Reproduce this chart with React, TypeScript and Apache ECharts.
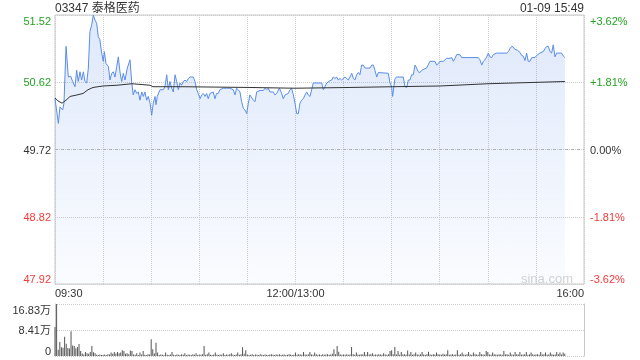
import React, { useEffect, useRef } from 'react';
import * as echarts from 'echarts';

const stockTitle = '03347 泰格医药';
const stampText = '01-09 15:49';
const watermark = 'sina.com';
const prevClose = 49.72;
const priceTicks = [47.92, 48.82, 49.72, 50.62, 51.52];
const pctTicks = ['-3.62%', '-1.81%', '0.00%', '+1.81%', '+3.62%'];
const timeTicks: Record<number, string> = { 0: '09:30', 150: '12:00/13:00', 330: '16:00' };
const volTicks = ['0', '8.41万', '16.83万'];
const volMax = 16.83;

// minutes after 09:30 (lunch break removed)
const minutes = [
  0, 2.1, 3.1, 4.8, 5.6, 6.9, 8.3, 9.8, 11, 12.5, 13.5, 14.5, 15.6, 16.6, 17.7, 18.7, 19.8, 20.8, 21.8, 22.9,
  23.9, 25, 26, 27, 28, 29.1, 30.1, 30.8, 31.8, 33.3, 34.3, 35.4, 36.4, 37.4, 38.5, 39.5, 40.5, 41.6, 42.6, 43.7,
  45.1, 46.8, 47.8, 48.8, 49.9, 51, 52, 53, 54.1, 55.1, 56.1, 57.2, 58.2, 59.3, 60.3, 61.3, 62.4, 63, 63.8, 65.5,
  67.6, 68.6, 69.7, 70.7, 71.7, 72.8, 73.8, 74.9, 75.9, 76.9, 78, 79, 80, 81.1, 82.1, 83.2, 84.2, 86.3, 87.3, 88.4,
  89.4, 90.5, 91.5, 92.5, 93.6, 94.6, 95.6, 96.7, 98.7, 99.8, 100.8, 101.8, 102.9, 105, 107, 109.1, 111.2, 112.3, 113.3, 114.3,
  115.4, 116.4, 117.5, 118.5, 119.6, 120.6, 121.6, 123.7, 124.8, 125.8, 127.9, 130, 131, 132, 133.1, 134.1, 136.2, 137.2, 138.3, 140,
  141.4, 142.4, 143.5, 145.5, 146.6, 147.6, 148.7, 149.7, 150.8, 151.8, 152.8, 153.9, 154.9, 156, 157, 158, 159.1, 160.1, 161.1, 166.4,
  167.4, 168.4, 169.5, 171.5, 172.6, 173.6, 174.7, 175.7, 176.7, 177.8, 178.8, 179.8, 180.9, 181.9, 183, 184, 185.1, 186.1, 187.1, 188.2,
  189.2, 190.2, 191.3, 192.3, 193.4, 196.5, 197.6, 198.6, 199.6, 200.7, 201.7, 207.9, 209, 210, 210.6, 211.5, 212.1, 213.2, 217.3, 218.3,
  219.4, 220.4, 221.4, 222.5, 223.5, 224.6, 225.6, 226.6, 227.7, 228.7, 229.7, 231.8, 233.9, 237, 238.1, 239.1, 240.1, 242.2, 244.3, 246.4,
  247.5, 248.5, 249.5, 250.6, 252.6, 253.7, 264, 265.1, 266.2, 267.2, 268.2, 269.3, 270.3, 271.3, 272.4, 273.4, 275.5, 281.8, 282.8, 283.8,
  284.9, 285.9, 286.9, 288.4, 290.1, 291.1, 292.1, 293.2, 294.2, 295.2, 296.3, 297.4, 299.4, 300.5, 302.5, 304.6, 305.7, 306.7, 307.7, 308.8,
  309.8, 310.8, 311.9, 312.9, 316, 317.1, 318.1,
];
const prices = [
  50.40, 50.07, 50.29, 50.25, 50.34, 51.10, 50.69, 50.70, 50.63, 50.56, 50.78, 50.63, 50.76, 50.65, 50.76, 50.63, 50.61, 50.81, 51.30, 51.39,
  51.52, 51.45, 51.41, 51.23, 51.19, 51.01, 50.90, 51.03, 50.87, 50.83, 50.65, 50.74, 50.76, 50.69, 50.83, 50.96, 50.76, 50.63, 50.74, 50.65,
  50.81, 50.92, 50.63, 50.45, 50.52, 50.47, 50.49, 50.38, 50.49, 50.43, 50.49, 50.38, 50.43, 50.34, 50.18, 50.34, 50.43, 50.32, 50.43, 50.52,
  50.52, 50.56, 50.72, 50.52, 50.63, 50.54, 50.49, 50.72, 50.63, 50.52, 50.61, 50.58, 50.63, 50.65, 50.63, 50.67, 50.69, 50.69, 50.63, 50.52,
  50.47, 50.40, 50.45, 50.47, 50.43, 50.47, 50.40, 50.47, 50.49, 50.40, 50.47, 50.47, 50.52, 50.54, 50.54, 50.54, 50.52, 50.45, 50.54, 50.52,
  50.49, 50.36, 50.27, 50.25, 50.20, 50.34, 50.45, 50.38, 50.36, 50.49, 50.51, 50.51, 50.54, 50.52, 50.54, 50.49, 50.49, 50.45, 50.47, 50.54,
  50.47, 50.40, 50.45, 50.47, 50.52, 50.54, 50.45, 50.34, 50.20, 50.20, 50.34, 50.38, 50.40, 50.45, 50.49, 50.45, 50.43, 50.52, 50.61, 50.61,
  50.52, 50.56, 50.61, 50.64, 50.65, 50.69, 50.67, 50.69, 50.65, 50.67, 50.65, 50.67, 50.69, 50.67, 50.65, 50.69, 50.74, 50.67, 50.65, 50.72,
  50.75, 50.72, 50.85, 50.85, 50.81, 50.81, 50.85, 50.85, 50.78, 50.69, 50.75, 50.74, 50.61, 50.56, 50.43, 50.58, 50.67, 50.69, 50.69, 50.56,
  50.55, 50.65, 50.65, 50.72, 50.72, 50.85, 50.81, 50.76, 50.75, 50.78, 50.79, 50.81, 50.90, 50.90, 50.85, 50.87, 50.90, 50.90, 50.94, 50.94,
  50.95, 50.90, 50.94, 50.99, 50.99, 50.95, 50.95, 50.92, 50.85, 50.90, 50.92, 50.96, 51.01, 50.96, 50.95, 50.99, 51.01, 51.01, 51.03, 51.07,
  51.10, 51.09, 51.06, 51.05, 51.02, 50.98, 50.97, 50.91, 51.01, 50.90, 50.90, 50.95, 50.95, 50.98, 51.01, 51.03, 51.07, 51.10, 51.10, 51.03,
  51.01, 51.12, 50.96, 51.01, 51.01, 50.97, 50.95,
];
const avgMinutes = [0, 1.9, 4.4, 6.9, 9.4, 13.7, 17.5, 20.6, 23.7, 29.9, 38.7, 48, 59.3, 61.1, 79.8, 121.6, 149.7, 184, 210.8, 240.2, 270.1, 318.1];
const avgPrices = [50.41, 50.37, 50.34, 50.38, 50.43, 50.45, 50.47, 50.52, 50.55, 50.57, 50.58, 50.60, 50.58, 50.56, 50.56, 50.55, 50.54, 50.55, 50.56, 50.57, 50.60, 50.63];
// volume per minute, in 万 shares
const volumes = [
  9.4, 16.83, 2.0, 4.5, 2.8, 2.7, 6.2, 4.0, 2.6, 2.4, 8.0, 3.4, 3.2, 2.5, 2.9, 3.9,
  1.6, 0.8, 0.5, 1.3, 0.9, 0.7, 1.3, 3.2, 1.2, 0.9, 0.4, 0.3, 0.5, 0.3,
  0.4, 0.5, 0.3, 0.6, 0.5, 1.1, 0.7, 1.3, 0.8, 1.3, 0.9, 1.1, 1.9, 1.6, 0.7, 0.9, 0.6, 1.8, 1.6, 0.5,
  0.4, 0.9, 0.3, 1.1, 0.5, 1.6, 0.4, 0.3, 0.6, 0.5,
  5.4, 2.2, 0.8, 4.3, 1.1,
  0.3, 0.5, 0.4, 0.3, 1.1, 0.4, 0.3, 0.5, 1.3, 0.4, 0.3, 0.5, 0.4, 0.3, 0.6, 0.4, 0.9, 0.3, 0.5, 0.4,
  0.3, 0.6, 0.4, 0.9, 0.3, 0.5, 0.4, 0.6,
  3.2,
  0.4, 0.6, 1.1, 0.4, 0.3, 0.5, 1.1, 0.4, 0.3, 0.5, 0.4, 0.9, 0.3, 0.5, 0.4, 0.6, 0.9, 0.4, 0.3, 0.5, 1.1, 0.4, 0.6,
  2.8, 0.7, 1.9,
  0.5, 0.3, 0.4, 0.6, 0.3, 0.5, 0.4, 0.3, 0.6, 0.4, 0.3, 0.5, 0.4, 0.3, 0.5, 0.6, 0.4, 0.3, 0.5, 0.4,
  0.6, 0.3, 0.4, 0.5, 0.3, 0.4, 0.6, 0.5, 0.3, 0.4,
  1.1, 0.4, 0.6, 0.5, 0.4, 1.3, 0.5, 0.4, 0.6, 1.3, 0.5, 0.4, 1.1, 0.6, 0.4, 0.5, 0.3, 0.6, 0.4, 0.5,
  0.6, 0.4, 0.5, 0.7, 2.2, 0.6, 3.2, 1.4, 0.5, 0.4,
  0.5, 0.4, 0.6, 0.4, 0.5, 2.9, 0.6, 0.4, 1.1, 0.5, 0.4, 0.6, 0.5, 1.3, 0.4, 1.3, 0.5, 0.6, 0.9, 0.4,
  0.5, 0.4, 0.6, 0.5, 0.4, 0.9, 0.5, 0.4, 0.6, 1.6,
  1.9, 0.6, 2.9, 0.5, 1.6, 0.4, 1.3, 0.5, 0.6, 0.4, 1.8, 0.5, 1.3, 0.4, 0.6, 1.1, 0.5, 0.4, 0.6, 1.3,
  0.5, 0.4, 0.6, 1.4, 0.5, 0.4, 0.6, 0.5, 1.1, 0.6,
  0.5, 0.4, 0.7, 0.5, 0.6, 1.9, 0.4, 0.5, 0.6, 0.4, 0.5, 1.9, 0.4, 0.6, 1.1, 0.5, 0.4, 0.6, 1.3, 0.5,
  0.4, 1.1, 0.6, 0.5, 0.4, 1.3, 0.6, 0.5, 0.4, 1.6,
  1.3, 0.5, 0.4, 1.1, 0.6, 0.5, 0.4, 0.6, 0.5, 0.4, 1.6, 0.5, 0.6, 0.4, 1.1, 0.5, 0.4, 1.3, 0.6, 0.5,
  1.3, 0.4, 0.5, 0.6, 1.3, 0.4, 0.5, 1.1, 0.6, 0.4,
  0.5, 0.6, 0.4, 1.3, 0.5, 0.6, 1.1, 0.4, 0.5, 1.1, 0.6, 0.4, 0.5, 1.3, 0.6, 1.1, 0.5, 1.1, 0.7,
];

const FONT = "'Liberation Sans', Arial, 'Noto Sans CJK SC', sans-serif";
const GREEN = '#22a322';
const RED = '#f23a3a';
const DARK = '#333333';
const GRID_LINE = '#cccccc';

function tickIndex(v: any): number {
  const n = parseFloat(v);
  let best = 0;
  for (let i = 0; i < priceTicks.length; i++) {
    if (Math.abs(priceTicks[i] - n) < Math.abs(priceTicks[best] - n)) best = i;
  }
  return best;
}
function tickColor(v: any): string {
  const n = parseFloat(v);
  if (n > prevClose + 0.001) return GREEN;
  if (n < prevClose - 0.001) return RED;
  return DARK;
}

export default function App() {
  const ref = useRef<HTMLDivElement>(null);
  useEffect(() => {
    if (!ref.current) return;
    const chart = echarts.init(ref.current, null, { renderer: 'svg' });
    chart.setOption({
      animation: false,
      textStyle: { fontFamily: FONT },
      grid: [
        { left: 55, top: 15, width: 529, height: 269, show: true, borderColor: '#c8c8c8', borderWidth: 1 },
        { left: 55, top: 304, width: 529, height: 52 },
      ],
      xAxis: [
        {
          type: 'value', gridIndex: 0, min: 0, max: 330, interval: 30,
          axisLine: { show: false }, axisTick: { show: false },
          splitLine: { show: true, lineStyle: { color: GRID_LINE, type: 'dotted' } },
          axisLabel: {
            formatter: (v: number) => timeTicks[Math.round(v)] ?? '',
            color: DARK, fontSize: 11, margin: 3, showMinLabel: true, showMaxLabel: true,
            alignMinLabel: 'left', alignMaxLabel: 'right', fontFamily: FONT,
          },
        },
        { type: 'value', gridIndex: 1, min: 0, max: 330, show: false },
      ],
      yAxis: [
        {
          type: 'value', gridIndex: 0, min: priceTicks[0], max: priceTicks[4], interval: 0.9,
          axisLine: { show: false }, axisTick: { show: false },
          splitLine: { show: true, lineStyle: { color: GRID_LINE, type: 'dotted' } },
          axisLabel: {
            formatter: (v: any) => priceTicks[tickIndex(v)].toFixed(2),
            color: (v: any) => tickColor(v), fontSize: 11, margin: 4,
            verticalAlignMinLabel: 'bottom', verticalAlignMaxLabel: 'top', fontFamily: FONT,
          },
        },
        {
          type: 'value', gridIndex: 0, position: 'right', min: priceTicks[0], max: priceTicks[4], interval: 0.9,
          axisLine: { show: false }, axisTick: { show: false }, splitLine: { show: false },
          axisLabel: {
            formatter: (v: any) => pctTicks[tickIndex(v)],
            color: (v: any) => tickColor(v), fontSize: 11, margin: 6,
            verticalAlignMinLabel: 'bottom', verticalAlignMaxLabel: 'top', fontFamily: FONT,
          },
        },
        {
          type: 'value', gridIndex: 1, min: 0, max: volMax, interval: volMax / 2,
          axisLine: { show: true, lineStyle: { color: '#c8c8c8' } }, axisTick: { show: false },
          splitLine: { show: true, lineStyle: { color: GRID_LINE, type: 'dotted', width: 1 } },
          axisLabel: {
            formatter: (v: number) => volTicks[Math.round((v / volMax) * 2)],
            color: DARK, fontSize: 11, margin: 4,
            verticalAlignMinLabel: 'bottom', verticalAlignMaxLabel: 'top', fontFamily: FONT,
          },
        },
        {
          type: 'value', gridIndex: 1, position: 'right', min: 0, max: volMax,
          axisLine: { show: true, lineStyle: { color: '#c8c8c8' } }, axisTick: { show: false },
          axisLabel: { show: false }, splitLine: { show: false },
        },
      ],
      series: [
        {
          type: 'line', xAxisIndex: 0, yAxisIndex: 0,
          data: minutes.map((m, i) => [m, prices[i]]),
          showSymbol: false, symbol: 'none',
          lineStyle: { color: '#5a8de8', width: 1 },
          areaStyle: {
            origin: 'start',
            color: new echarts.graphic.LinearGradient(0, 0, 0, 1, [
              { offset: 0, color: 'rgba(90,140,235,0.28)' },
              { offset: 1, color: 'rgba(90,140,235,0.04)' },
            ]),
          },
          markLine: {
            silent: true, symbol: 'none', label: { show: false },
            lineStyle: { color: '#b0b0b0', type: [3, 3], width: 1 },
            data: [{ yAxis: prevClose }],
          },
          z: 2,
        },
        {
          type: 'line', xAxisIndex: 0, yAxisIndex: 0,
          data: avgMinutes.map((m, i) => [m, avgPrices[i]]),
          showSymbol: false, symbol: 'none',
          lineStyle: { color: '#333333', width: 1 },
          z: 3,
        },
        {
          type: 'bar', xAxisIndex: 1, yAxisIndex: 2,
          data: volumes.map((v, i) => [i, v]),
          barWidth: 1,
          itemStyle: { color: '#555555' },
        },
      ],
      graphic: [
        { type: 'text', left: 55, top: 2, style: { text: stockTitle, fontSize: 12, fill: DARK, fontFamily: FONT } },
        { type: 'text', right: 56, top: 2, style: { text: stampText, fontSize: 12, fill: DARK, fontFamily: FONT } },
        { type: 'text', right: 67, top: 272, style: { text: watermark, fontSize: 13, fill: '#d2d2d2', fontFamily: FONT } },
      ],
    });
    return () => chart.dispose();
  }, []);
  return <div ref={ref} style={{ position: 'fixed', left: 0, top: 0, width: 640, height: 360 }} />;
}
